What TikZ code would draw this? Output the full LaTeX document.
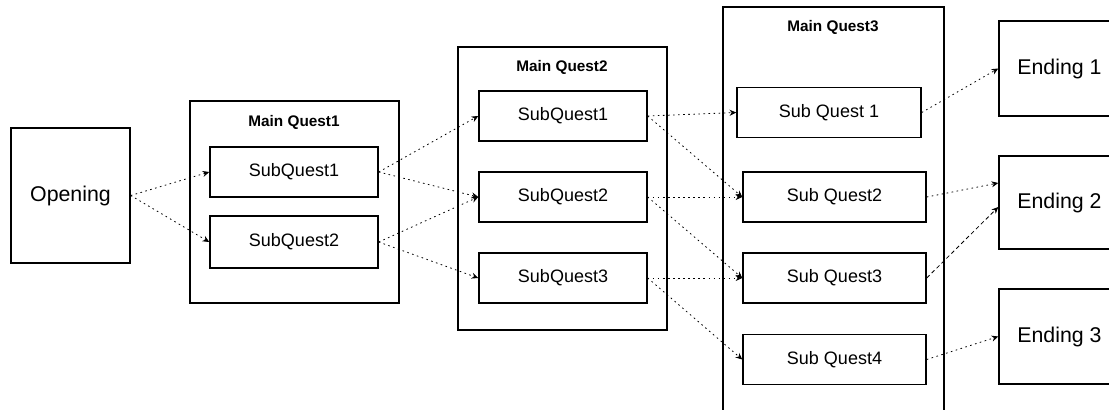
\documentclass[tikz,border=0pt]{standalone}
\usepackage{fontspec}
\setmainfont{Liberation Sans}
\usetikzlibrary{arrows.meta,calc}
\begin{document}
\begin{tikzpicture}[x=0.75pt,y=-0.75pt,
  bigbox/.style={draw,line width=1.1pt,inner sep=0pt,font=\fontsize{16}{18}\selectfont},
  groupbox/.style={draw,line width=1.1pt,inner sep=0pt},
  subbox/.style={draw,line width=1.1pt,inner sep=0pt,minimum height=37.5pt,font=\fontsize{13.5}{15}\selectfont},
  title/.style={inner sep=0pt,font=\bfseries\fontsize{11.5}{13}\selectfont},
  link/.style={line width=0.6pt,dash pattern=on 1.2pt off 2.6pt,-{Stealth[length=5pt,width=4.5pt]}},
  dlink/.style={line width=0.6pt,dash pattern=on 3pt off 2.2pt,-{Stealth[length=5pt,width=4.5pt]}}]
\useasboundingbox (0,0) rectangle (1109,410);
\clip (0,0) rectangle (1109,410);
\fill[white] (0,0) rectangle (1109,410);
% groups
\node[groupbox,minimum width=156.75pt,minimum height=151.5pt] (mq1) at (294.5,202) {};
\node[title] (t1) at (294,122) {Main Quest1};
\node[groupbox,minimum width=156.75pt,minimum height=212.25pt] (mq2) at (562.5,188.5) {};
\node[title] (t2) at (562,67) {Main Quest2};
\node[groupbox,minimum width=165.75pt,minimum height=309.75pt] (mq3) at (833.5,213.5) {};
\node[title] (t3) at (833,27) {Main Quest3};
% opening and endings
\node[bigbox,minimum width=89.25pt,minimum height=101.25pt] (open) at (70.5,195.5) {Opening};
\node[bigbox,minimum width=90.75pt,minimum height=71.25pt] (e1) at (1059.5,68.5) {Ending 1};
\node[bigbox,minimum width=90.75pt,minimum height=69.75pt] (e2) at (1059.5,202.5) {Ending 2};
\node[bigbox,minimum width=90.75pt,minimum height=71.25pt] (e3) at (1059.5,336.5) {Ending 3};
% sub quests
\node[subbox,minimum width=126pt] (a1) at (294,172) {SubQuest1};
\node[subbox,minimum width=126pt,minimum height=39pt] (a2) at (294,242) {SubQuest2};
\node[subbox,minimum width=126pt] (b1) at (563,116) {SubQuest1};
\node[subbox,minimum width=126pt] (b2) at (563,197) {SubQuest2};
\node[subbox,minimum width=126pt] (b3) at (563,278) {SubQuest3};
\node[subbox,minimum width=138pt] (c1) at (829,112.5) {Sub Quest 1};
\node[subbox,minimum width=137.25pt] (c2) at (834.5,197) {Sub Quest2};
\node[subbox,minimum width=137.25pt] (c3) at (834.5,278) {Sub Quest3};
\node[subbox,minimum width=137.25pt] (c4) at (834.5,359.5) {Sub Quest4};
% connectors
\draw[link] (open.east) -- (a1.west);
\draw[link] (open.east) -- (a2.west);
\draw[link] (a1.east) -- (b1.west);
\draw[link] (a1.east) -- (b2.west);
\draw[link] (a2.east) -- (b2.west);
\draw[link] (a2.east) -- (b3.west);
\draw[link] (b1.east) -- (c1.west);
\draw[link] (b1.east) -- (c2.west);
\draw[link] (b2.east) -- (c2.west);
\draw[link] (b2.east) -- (c3.west);
\draw[link] (b3.east) -- (c3.west);
\draw[link] (b3.east) -- (c4.west);
\draw[link] (c1.east) -- (e1.west);
\draw[link] (c2.east) -- ($(e2.west)+(0,-19.5)$);
\draw[dlink] (c3.east) -- ($(e2.west)+(0,4.5)$);
\draw[link] (c4.east) -- (e3.west);
\end{tikzpicture}
\end{document}
